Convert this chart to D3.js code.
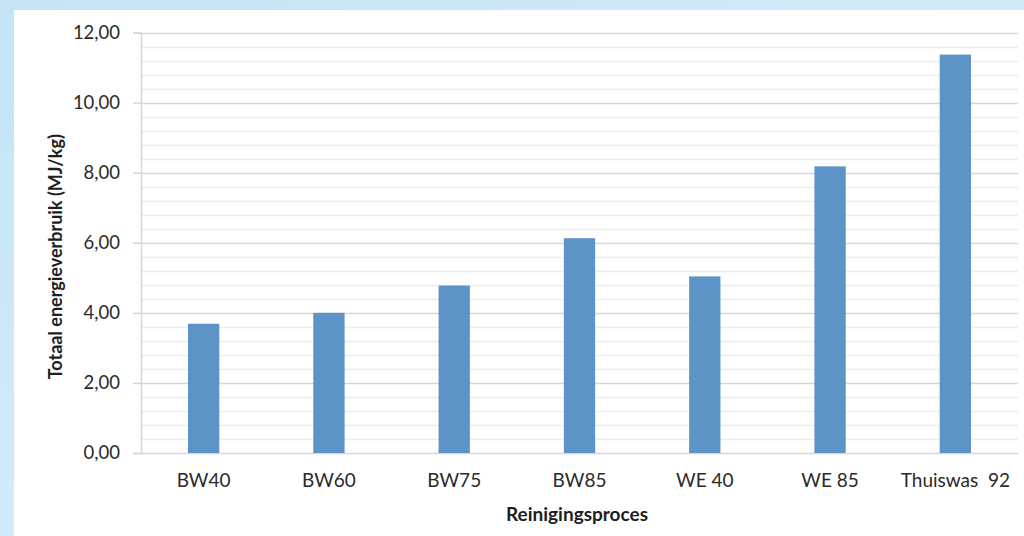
<!DOCTYPE html>
<html>
<head>
<meta charset="utf-8">
<script src="https://cdn.jsdelivr.net/npm/d3@7"></script>
<style>
  html, body { margin: 0; padding: 0; background: #cce8f6; }
  svg { display: block; }
  text { font-family: Lato, "Open Sans", sans-serif; fill: #2a2a2a; }
</style>
</head>
<body>
<svg id="chart" width="1024" height="536"></svg>
<script>
// Total energy use per cleaning process (MJ/kg)
const categories = ["BW40", "BW60", "BW75", "BW85", "WE 40", "WE 85", "Thuiswas  92"];
const values = [3.69, 4.00, 4.78, 6.13, 5.04, 8.18, 11.37];
const yTicks = [0, 2, 4, 6, 8, 10, 12];
const yMinorStep = 0.4;
const yTitle = "Totaal energieverbruik (MJ/kg)";
const xTitle = "Reinigingsproces";

const svg = d3.select("#chart");
const W = 1024, H = 536;

// light blue frame with a white panel
const defs = svg.append("defs");
const grad = defs.append("linearGradient").attr("id", "bg")
  .attr("x1", "0").attr("y1", "0").attr("x2", "1").attr("y2", "1");
grad.append("stop").attr("offset", "0").attr("stop-color", "#c4e4f6");
grad.append("stop").attr("offset", "0.5").attr("stop-color", "#d2ebf8");
grad.append("stop").attr("offset", "1").attr("stop-color", "#c8e6f6");
svg.append("rect").attr("width", W).attr("height", H).attr("fill", "url(#bg)");
svg.append("rect").attr("x", 14).attr("y", 10).attr("width", W - 14).attr("height", H - 10).attr("fill", "#ffffff");

const plot = { left: 141, right: 1018, top: 32.5, bottom: 453 };

const x = d3.scaleBand().domain(categories).range([plot.left, plot.right]).paddingInner(0.75).paddingOuter(0.375);
const y = d3.scaleLinear().domain([0, 12]).range([plot.bottom, plot.top]);

// minor gridlines
const minorVals = d3.range(0, 12 + 1e-9, yMinorStep).filter(v => !yTicks.some(t => Math.abs(t - v) < 1e-6));
svg.append("g").selectAll("line").data(minorVals).join("line")
  .attr("x1", plot.left).attr("x2", plot.right)
  .attr("y1", d => Math.round(y(d)) + 0.5).attr("y2", d => Math.round(y(d)) + 0.5)
  .attr("stroke", "#ececec").attr("stroke-width", 1.5);

// major gridlines
svg.append("g").selectAll("line").data(yTicks).join("line")
  .attr("x1", plot.left).attr("x2", plot.right)
  .attr("y1", d => Math.round(y(d)) + 0.5).attr("y2", d => Math.round(y(d)) + 0.5)
  .attr("stroke", "#d6d6d6").attr("stroke-width", 1.5);

// y axis
const yAxis = svg.append("g").attr("transform", `translate(${plot.left},0)`)
  .call(d3.axisLeft(y).tickValues(yTicks).tickSize(8).tickPadding(13)
    .tickFormat(d => d3.format(".2f")(d).replace(".", ",")));
yAxis.select(".domain").attr("stroke", "#d6d6d6").attr("stroke-width", 1.5);
yAxis.selectAll(".tick line").attr("stroke", "#d6d6d6").attr("stroke-width", 1.5);
yAxis.selectAll(".tick text").style("font-size", "18.5px").style("fill", "#2a2a2a");

// x axis labels
const xAxis = svg.append("g").attr("transform", `translate(0,${plot.bottom})`)
  .call(d3.axisBottom(x).tickSize(0).tickPadding(21));
xAxis.select(".domain").remove();
xAxis.selectAll(".tick text").style("font-size", "19px").style("fill", "#2a2a2a")
  .style("white-space", "pre").attr("xml:space", "preserve");

// bars
svg.append("g").selectAll("rect").data(values).join("rect")
  .attr("x", (d, i) => x(categories[i]))
  .attr("width", x.bandwidth())
  .attr("y", d => y(d))
  .attr("height", d => y(0) - y(d))
  .attr("fill", "#5d94c8");

// axis titles
svg.append("text")
  .attr("transform", `translate(57,${(plot.top + plot.bottom) / 2 + 14}) rotate(-90)`)
  .attr("text-anchor", "middle").attr("dominant-baseline", "middle")
  .style("font-size", "18px").style("font-weight", "bold").style("fill", "#1e1e1e")
  .text(yTitle);

svg.append("text")
  .attr("x", 577).attr("y", 516)
  .attr("text-anchor", "middle").attr("dominant-baseline", "middle")
  .style("font-size", "19px").style("font-weight", "bold").style("fill", "#1e1e1e")
  .text(xTitle);
</script>
</body>
</html>
